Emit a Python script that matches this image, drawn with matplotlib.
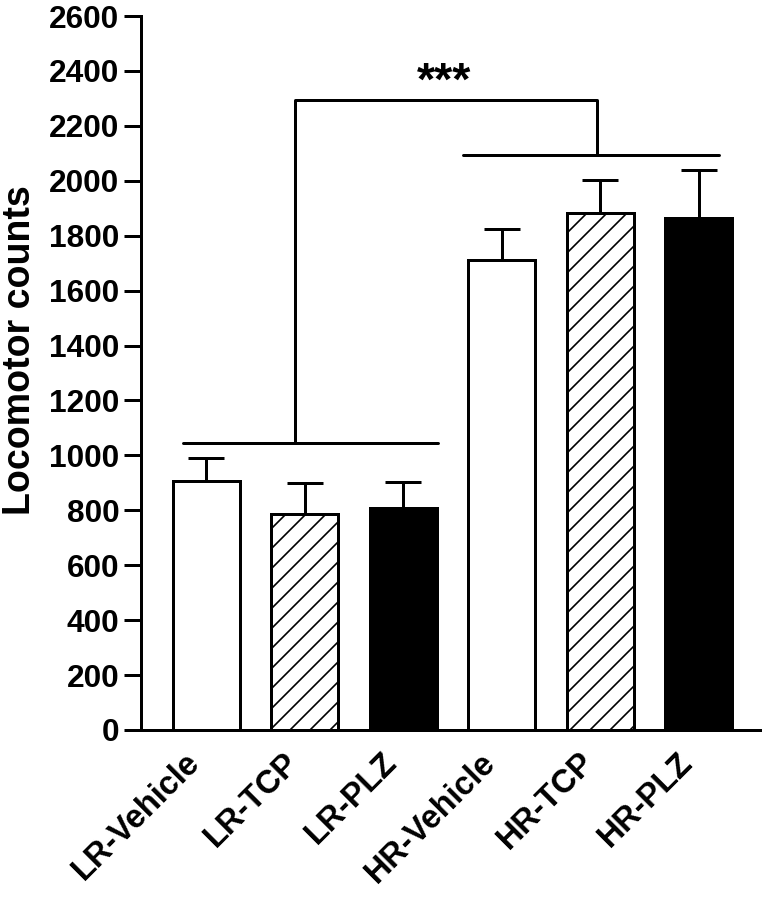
import numpy as np
import matplotlib
matplotlib.use('Agg')
import matplotlib.pyplot as plt

# 그룹별 평균 운동량과 SEM
groups = ['LR-Vehicle', 'LR-TCP', 'LR-PLZ', 'HR-Vehicle', 'HR-TCP', 'HR-PLZ']
means = [908, 786, 807, 1712, 1882, 1863]
sem = [81, 112, 96, 111, 121, 176]
fills = ['white', 'white', 'black', 'white', 'white', 'black']
hatches = ['', '//', '', '', '//', '']

# 유의성 표시 괄호 높이
lr_bracket = 1044
hr_bracket = 2094
top_bracket = 2293
sig_text = '***'

plt.rcParams['font.family'] = ['Liberation Sans', 'DejaVu Sans']
plt.rcParams['font.weight'] = 'bold'
plt.rcParams['hatch.linewidth'] = 1.0

fig = plt.figure(figsize=(6.35, 7.5), dpi=120)
ax = fig.add_axes([0.185, 0.1889, 0.8124, 0.7933])

x = np.arange(len(groups))
ax.errorbar(x, means, yerr=[np.zeros(len(sem)), sem], fmt='none', ecolor='black',
            elinewidth=1.8, capsize=11, capthick=1.8, zorder=1)
ax.bar(x, means, width=0.68, color=fills, edgecolor='black', linewidth=1.8,
       hatch=hatches, zorder=2)

# LR / HR 그룹 괄호
lw = 1.8
ax.plot([x[0] - 0.23, x[2] + 0.35], [lr_bracket, lr_bracket], color='black', lw=lw,
        solid_capstyle='round')
ax.plot([x[3] - 0.39, x[5] + 0.20], [hr_bracket, hr_bracket], color='black', lw=lw,
        solid_capstyle='round')
lr_mid, hr_mid = x[1] - 0.10, x[4] - 0.03
ax.plot([lr_mid, lr_mid, hr_mid, hr_mid], [lr_bracket, top_bracket, top_bracket, hr_bracket],
        color='black', lw=lw)
ax.text(2.42, 2276, sig_text, ha='center', va='bottom', fontsize=28, fontweight='bold')

ax.set_xlim(-0.66, 5.62)
ax.set_ylim(0, 2600)
ax.set_yticks(np.arange(0, 2601, 200))
ax.set_xticks(x)
ax.set_xticklabels(groups, rotation=45, ha='right', fontsize=19.5, fontweight='bold')
ax.set_ylabel('Locomotor counts', fontsize=22.5, fontweight='bold')
ax.yaxis.set_label_coords(-0.166, 0.532)
ax.tick_params(axis='y', length=10, width=1.8, labelsize=19, pad=3)
ax.tick_params(axis='x', length=0, pad=10)
for s in ['top', 'right']:
    ax.spines[s].set_visible(False)
for s in ['left', 'bottom']:
    ax.spines[s].set_linewidth(1.8)

fig.savefig('out.png', dpi=120)
